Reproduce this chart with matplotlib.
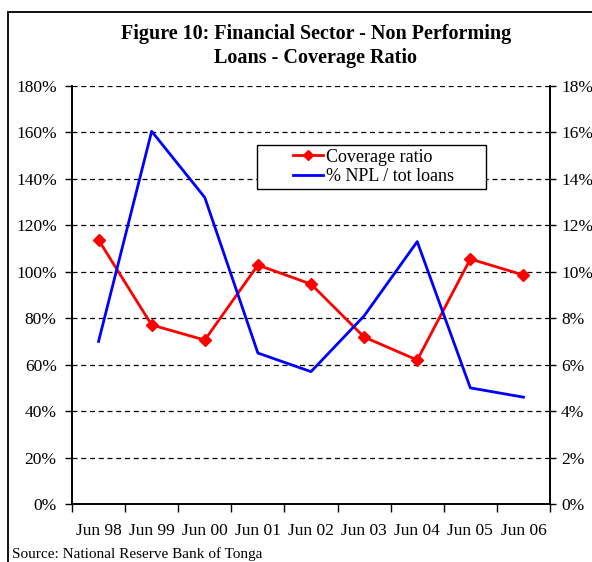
import matplotlib
matplotlib.use("Agg")
import matplotlib.pyplot as plt
from matplotlib.patches import Rectangle
from matplotlib.ticker import FuncFormatter, MultipleLocator, FixedLocator

categories = ["Jun 98", "Jun 99", "Jun 00", "Jun 01", "Jun 02", "Jun 03", "Jun 04", "Jun 05", "Jun 06"]
coverage_ratio = [113.7, 77.1, 70.6, 102.9, 94.7, 71.9, 62.0, 105.5, 98.6]
npl_share = [7.0, 16.05, 13.2, 6.5, 5.7, 8.1, 11.3, 5.0, 4.6]

plt.rcParams['font.family'] = ['Liberation Serif', 'DejaVu Serif']

W, H = 592, 562
fig = plt.figure(figsize=(W/100, H/100), dpi=100)
ax = fig.add_axes([72/W, 1-504/H, 478/W, 418/H])
ax2 = ax.twinx()

x = list(range(len(categories)))
ax.plot(x, coverage_ratio, color='#ff0000', lw=2, marker='D', ms=6.5, label='Coverage ratio', zorder=5)
ax2.plot(x, npl_share, color='#0000ff', lw=2, label='% NPL / tot loans', zorder=5)

ax.set_xlim(-0.5, len(categories)-0.5)
ax.set_ylim(0, 180)
ax2.set_ylim(0, 18)
ax.yaxis.set_major_locator(MultipleLocator(20))
ax2.yaxis.set_major_locator(MultipleLocator(2))
ax.yaxis.set_major_formatter(FuncFormatter(lambda v, p: f"{v:.0f}%"))
ax2.yaxis.set_major_formatter(FuncFormatter(lambda v, p: f"{v:.0f}%"))

ax.set_xticks(x)
ax.set_xticklabels(categories)
ax.tick_params(axis='x', which='major', length=0, pad=14, labelsize=12.5)
ax.xaxis.set_minor_locator(FixedLocator([i - 0.5 for i in range(len(categories)+1)]))
ax.tick_params(axis='x', which='minor', length=6, width=1, direction='out')
ax.tick_params(axis='y', length=5, width=1, direction='out', labelsize=12.5, pad=6)
ax2.tick_params(axis='y', length=4, width=1, direction='out', labelsize=12.5, pad=4)

ax.grid(axis='y', color='black', linestyle=(0, (4, 3)), lw=0.9)
for a in (ax, ax2):
    a.spines['top'].set_visible(False)
    for s in ('left', 'right', 'bottom'):
        a.spines[s].set_linewidth(1.2)

# legend frame drawn separately (Excel-style wide box)
def ax_coords(px, py):
    return ((px - 72) / 478, (504 - py) / 418)

bx0, by1 = ax_coords(257, 145)
bx1, by0 = ax_coords(486, 189)
ax2.add_patch(Rectangle((bx0, by0), bx1 - bx0, by1 - by0, transform=ax2.transAxes,
                        facecolor='white', edgecolor='black', lw=1.0, zorder=6))

h1, l1 = ax.get_legend_handles_labels()
h2, l2 = ax2.get_legend_handles_labels()
lx, ly = ax_coords(293, 167)
leg = ax2.legend(h1 + h2, l1 + l2, loc='center left', bbox_to_anchor=(lx, ly),
                 fontsize=13, frameon=False, handlelength=1.65, handletextpad=0.15,
                 borderpad=0, labelspacing=0.15, borderaxespad=0, markerscale=0.75)
leg.set_zorder(7)

fig.text(316/W, 1-34/H, "Figure 10: Financial Sector - Non Performing", ha='center', va='center',
         fontsize=14.5, fontweight='bold')
fig.text(316/W, 1-58/H, "Loans - Coverage Ratio", ha='center', va='center',
         fontsize=14.5, fontweight='bold')
fig.text(12/W, 1-558/H, "Source: National Reserve Bank of Tonga", ha='left', va='baseline', fontsize=11)

fig.patches.append(Rectangle((8/W, -0.1), 1.2, 1 - 12/H + 0.1, transform=fig.transFigure,
                             fill=False, edgecolor='black', lw=1.3))

fig.savefig("out.png", dpi=100)
